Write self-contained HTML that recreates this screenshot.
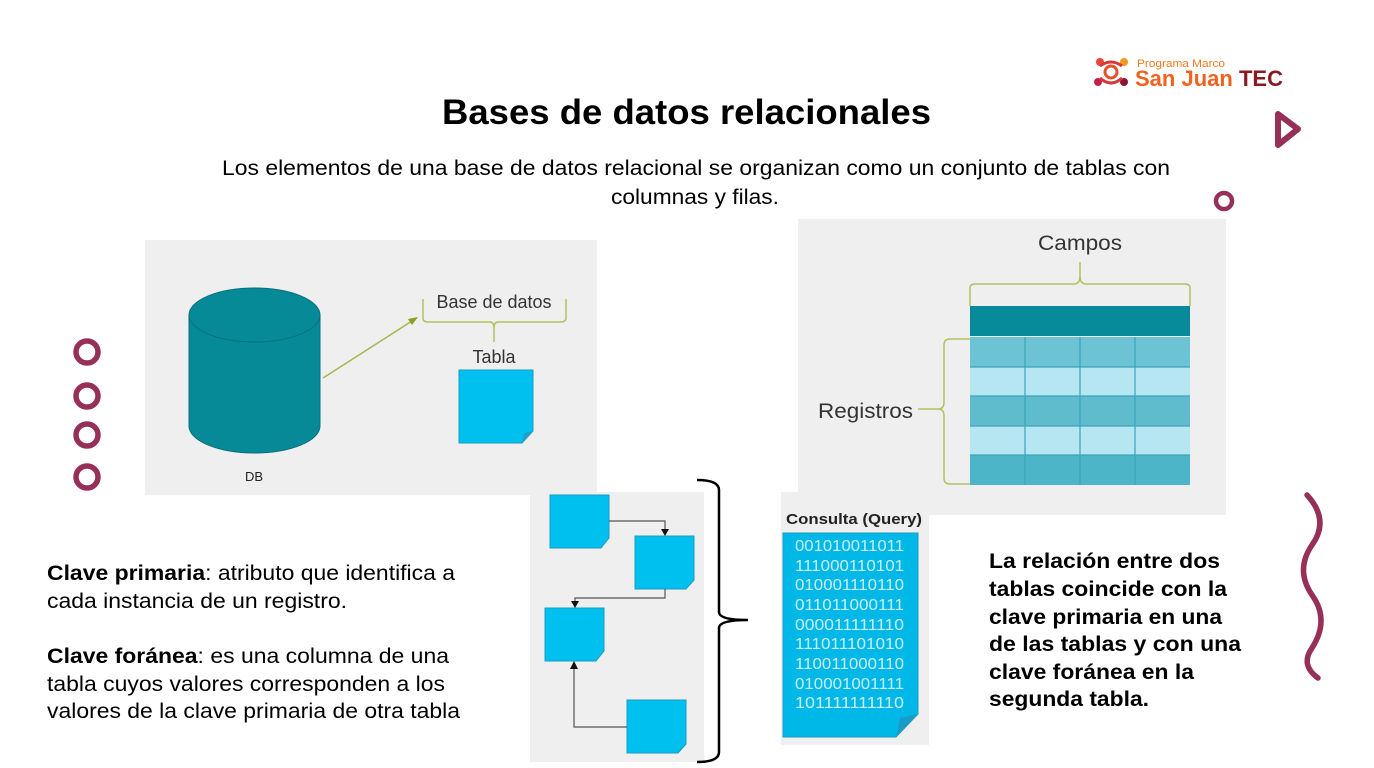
<!DOCTYPE html>
<html><head><meta charset="utf-8"><style>
body{margin:0;width:1374px;height:768px;background:#fff;overflow:hidden;font-family:"Liberation Sans",sans-serif}
svg{position:absolute;left:0;top:0}
</style></head><body>
<svg width="1374" height="768" viewBox="0 0 1374 768" font-family="Liberation Sans, sans-serif">
<!-- logo -->
<g>
<circle cx="1100" cy="62" r="4" fill="#e8473b"/><circle cx="1124" cy="62" r="4" fill="#f29a1f"/>
<circle cx="1098" cy="82" r="4" fill="#c4204a"/><circle cx="1124" cy="82" r="4" fill="#8a1538"/>
<circle cx="1111" cy="72" r="6" fill="none" stroke="#e0552f" stroke-width="3"/>
<path d="M1100 66 Q1111 58 1122 66 M1100 78 Q1111 88 1122 78" stroke="#d43a3a" stroke-width="3" fill="none"/>
<text x="1137" y="67" font-size="11" fill="#f07a1e" textLength="88" lengthAdjust="spacingAndGlyphs">Programa Marco</text>
<text x="1135" y="86" font-size="22" font-weight="bold" fill="#f0621e" textLength="148" lengthAdjust="spacingAndGlyphs">San Juan <tspan fill="#8a1a22">TEC</tspan></text>
</g>
<!-- decorations -->
<path d="M1278 114 L1298 129 L1278 145 Z" fill="none" stroke="#963059" stroke-width="6" stroke-linejoin="round"/>
<circle cx="1224" cy="201" r="8" fill="none" stroke="#963059" stroke-width="4.5"/>
<g fill="none" stroke="#963059" stroke-width="5.5">
<circle cx="87" cy="352" r="11"/><circle cx="87" cy="396" r="11"/><circle cx="87" cy="435" r="11"/><circle cx="87" cy="477" r="11"/>
<path d="M1307 495 Q1330 520 1312 545 Q1295 570 1312 595 Q1330 620 1312 648 Q1300 665 1318 678" stroke-linecap="round"/>
</g>
<!-- title -->
<text x="442" y="124" font-size="35" font-weight="bold" fill="#000" textLength="489" lengthAdjust="spacingAndGlyphs">Bases de datos relacionales</text>
<text x="222" y="175" font-size="21" fill="#000" textLength="948" lengthAdjust="spacingAndGlyphs">Los elementos de una base de datos relacional se organizan como un conjunto de tablas con</text>
<text x="611" y="204" font-size="21" fill="#000" textLength="168" lengthAdjust="spacingAndGlyphs">columnas y filas.</text>
<!-- left image -->
<rect x="145" y="240" width="452" height="255" fill="#efeff0"/>
<path d="M189 315 V426 A65.5 27 0 0 0 320 426 V315 Z" fill="#078a97" stroke="#06707c"/>
<ellipse cx="254.5" cy="315" rx="65.5" ry="27" fill="#078a97" stroke="#06707c"/>
<text x="254" y="481" font-size="13" text-anchor="middle" fill="#222">DB</text>
<line x1="323" y1="378" x2="412" y2="321" stroke="#a4b84a" stroke-width="1.5"/>
<path d="M418 317 L408 319 L412 325 Z" fill="#8aa020"/>
<text x="494" y="308" font-size="18" text-anchor="middle" fill="#333">Base de datos</text>
<path d="M423 299 V318 Q423 322 428 322 H490 Q494 322 494 328 V342 M494 328 Q494 322 498 322 H560 Q566 322 566 318 V299" fill="none" stroke="#b4c060" stroke-width="1.5"/>
<text x="494" y="363" font-size="18" text-anchor="middle" fill="#333">Tabla</text>
<path d="M459 370 H533 V431 L522 443 H459 Z" fill="#00c0f0" stroke="#1a9cc0"/>
<path d="M522 443 L524 433 L533 431" fill="#20a0c8"/>
<!-- right image -->
<rect x="798" y="219" width="428" height="296" fill="#efeff0"/>
<text x="1038" y="250" font-size="21" fill="#333" textLength="84" lengthAdjust="spacingAndGlyphs">Campos</text>
<path d="M970 306 V288 Q970 284 975 284 H1074 Q1080 284 1080 276 V262 M1080 276 Q1080 284 1086 284 H1185 Q1190 284 1190 288 V306" fill="none" stroke="#b4c060" stroke-width="1.5"/>
<rect x="970" y="306" width="220" height="30" fill="#078a9a"/>
<rect x="970" y="337" width="220" height="30" fill="#6cc3d3"/>
<rect x="970" y="367" width="220" height="29" fill="#b5e6f2"/>
<rect x="970" y="396" width="220" height="30" fill="#5ebccd"/>
<rect x="970" y="426" width="220" height="29" fill="#b5e6f2"/>
<rect x="970" y="455" width="220" height="30" fill="#4db5c8"/>
<g stroke="#3aa4b8" stroke-width="1.2"><line x1="1025" y1="337" x2="1025" y2="485"/><line x1="1080" y1="337" x2="1080" y2="485"/><line x1="1135" y1="337" x2="1135" y2="485"/>
<line x1="970" y1="367" x2="1190" y2="367"/><line x1="970" y1="396" x2="1190" y2="396"/><line x1="970" y1="426" x2="1190" y2="426"/><line x1="970" y1="455" x2="1190" y2="455"/></g>
<text x="818" y="418" font-size="21" fill="#333" textLength="95" lengthAdjust="spacingAndGlyphs">Registros</text>
<path d="M970 339 H950 Q944 339 944 345 V402 Q944 409 938 409 H918 M938 409 Q944 409 944 416 V478 Q944 484 950 484 H970" fill="none" stroke="#b4c060" stroke-width="1.5"/>
<!-- flow image -->
<rect x="530" y="492" width="174" height="270" fill="#efeff0"/>
<g fill="#00c0f0" stroke="#1a9cc0">
<path d="M550 495 H609 V538 L601 548 H550 Z"/>
<path d="M635 536 H694 V580 L686 589 H635 Z"/>
<path d="M545 608 H604 V651 L596 661 H545 Z"/>
<path d="M627 700 H686 V744 L678 753 H627 Z"/>
</g>
<g fill="none" stroke="#555" stroke-width="1.2">
<path d="M609 521 H665 V531"/><path d="M665 589 V598 H575 V603"/><path d="M627 727 H574 V667"/>
</g>
<g fill="#111"><path d="M661 529 H669 L665 536 Z"/><path d="M571 601 H579 L575 608 Z"/><path d="M570 669 H578 L574 661 Z"/></g>
<path d="M697 480 Q719 480 719 490 V612 Q719 620 748 620 Q719 620 719 628 V752 Q719 762 697 762" fill="none" stroke="#000" stroke-width="2.5"/>
<!-- query -->
<rect x="781" y="492" width="148" height="253" fill="#efeff0"/>
<text x="786" y="524" font-size="15" font-weight="bold" fill="#222" textLength="136" lengthAdjust="spacingAndGlyphs">Consulta (Query)</text>
<path d="M783 533 H918 V714 L896 737 H783 Z" fill="#00b8e8" stroke="#1a9cc0"/>
<path d="M896 737 L900 718 L918 714 Z" fill="#1a9cc8"/>
<g font-size="16" fill="#c8f0ff">
<text x="795" y="551" textLength="109" lengthAdjust="spacingAndGlyphs">001010011011</text><text x="795" y="571" textLength="109" lengthAdjust="spacingAndGlyphs">111000110101</text><text x="795" y="590" textLength="109" lengthAdjust="spacingAndGlyphs">010001110110</text>
<text x="795" y="610" textLength="109" lengthAdjust="spacingAndGlyphs">011011000111</text><text x="795" y="630" textLength="109" lengthAdjust="spacingAndGlyphs">000011111110</text><text x="795" y="649" textLength="109" lengthAdjust="spacingAndGlyphs">111011101010</text>
<text x="795" y="669" textLength="109" lengthAdjust="spacingAndGlyphs">110011000110</text><text x="795" y="689" textLength="109" lengthAdjust="spacingAndGlyphs">010001001111</text><text x="795" y="708" textLength="109" lengthAdjust="spacingAndGlyphs">101111111110</text>
</g>
<!-- left text -->
<g font-size="21" fill="#000">
<text x="47" y="580" textLength="408" lengthAdjust="spacingAndGlyphs"><tspan font-weight="bold">Clave primaria</tspan>: atributo que identifica a</text>
<text x="47" y="608" textLength="300" lengthAdjust="spacingAndGlyphs">cada instancia de un registro.</text>
<text x="47" y="663" textLength="402" lengthAdjust="spacingAndGlyphs"><tspan font-weight="bold">Clave foránea</tspan>: es una columna de una</text>
<text x="47" y="691" textLength="398" lengthAdjust="spacingAndGlyphs">tabla cuyos valores corresponden a los</text>
<text x="47" y="718" textLength="413" lengthAdjust="spacingAndGlyphs">valores de la clave primaria de otra tabla</text>
</g>
<g font-size="21" font-weight="bold" fill="#000">
<text x="989" y="568" textLength="231" lengthAdjust="spacingAndGlyphs">La relación entre dos</text>
<text x="989" y="596" textLength="238" lengthAdjust="spacingAndGlyphs">tablas coincide con la</text>
<text x="989" y="624" textLength="233" lengthAdjust="spacingAndGlyphs">clave primaria en una</text>
<text x="989" y="651" textLength="252" lengthAdjust="spacingAndGlyphs">de las tablas y con una</text>
<text x="989" y="679" textLength="205" lengthAdjust="spacingAndGlyphs">clave foránea en la</text>
<text x="989" y="706" textLength="160" lengthAdjust="spacingAndGlyphs">segunda tabla.</text>
</g>
</svg>
</body></html>
